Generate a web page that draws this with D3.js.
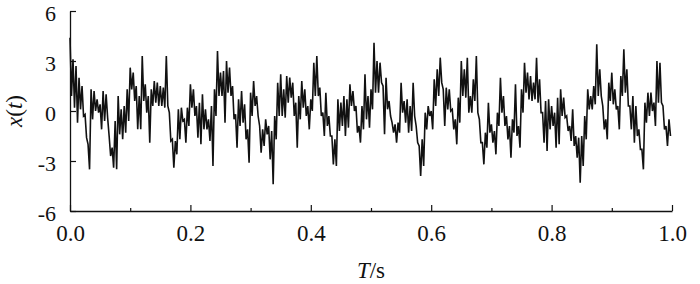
<!DOCTYPE html>
<html>
<head>
<meta charset="UTF-8">
<title>x(t)</title>
<script src="https://d3js.org/d3.v7.min.js"></script>
<style>
  body { margin: 0; background: #fff; }
  svg { display: block; }
  svg text { font-family: "Liberation Serif", "Times New Roman", Times, serif; }
</style>
</head>
<body>
<svg></svg>
<script>
// signal, one array per 0.1 s, sample step 0.0025 s
const tStep = 0.0025;
const sig0 = [4.4,0.9, 3.1,0.2, 2.7,-0.7, 2.0,0.1, 1.5,-0.3, -0.2,-1.6, -2.0,-3.5, 1.3,-0.5, 1.2,0.0, 0.7,-0.1,
              0.4,-1.1, 1.2,-0.6, 1.0,-0.4, -1.5,-2.7, -2.2,-3.4, -0.6,-3.5, 0.9,-1.4, 0.1,-1.7, 0.3,-1.3, 1.3,-0.6];
const sig1 = [2.6,1.3, 2.3,0.6, 1.5,-1.1, 0.9,-1.1, 3.3,0.6, 1.6,-0.1, 0.9,-1.9, 1.3,0.3, 1.8,0.5, 1.7,0.3,
              1.5,0.3, 1.4,0.2, 3.3,0.3, -0.1,-1.8, -1.7,-3.4, -1.8,-2.6, 0.1,-1.7, 0.2,-0.6, -0.5,-1.9, 0.2,-0.9];
const sig2 = [1.6,0.2, 1.3,-0.3, 0.3,-1.6, 0.5,-2.0, 1.0,-1.1, 0.1,-1.1, -0.5,-1.8, 0.3,-3.3, 1.3,-0.3, 3.6,0.9,
              2.3,0.9, 2.4,-0.7, 3.0,1.1, 2.6,0.9, 1.5,-0.5, -0.2,-2.2, 0.7,-0.9, 1.2,-0.7, 0.4,-1.7, -1.1,-3.1];
const sig3 = [1.1,-0.3, 1.8,0.3, 0.9,-0.3, -0.9,-2.5, -1.1,-2.1, -0.5,-1.4, -0.9,-2.9, -1.2,-4.4, -0.3,-1.7, 1.7,-0.3,
              2.2,-0.3, 1.3,-0.4, 2.1,0.5, 2.0,0.8, 1.7,-0.3, 0.5,-2.2, 0.9,-0.5, 1.8,0.2, 1.3,-0.3, 0.3,-1.1];
const sig4 = [0.7,0.0, 2.9,0.9, 3.3,0.9, 1.4,-0.3, -0.1,-1.5, 1.1,-0.9, -0.3,-1.5, -1.5,-3.2, -1.7,-3.3, 0.7,-1.2,
              0.5,-0.9, 0.9,-1.5, 0.7,-1.0, 1.6,0.3, 1.2,0.0, 0.3,-1.3, -0.9,-1.9, 0.3,-1.1, 2.2,-0.5, 0.9,-1.0];
const sig5 = [1.3,0.1, 4.1,1.1, 3.0,1.1, 2.9,1.7, 1.5,-1.4, 2.0,0.1, 0.6,-0.3, -0.7,-1.3, -0.8,-1.9, -0.7,-1.3,
              1.7,-0.1, 0.6,-0.7, 0.7,-1.3, 0.3,-1.2, 1.7,-0.3, -0.9,-1.9, -2.1,-3.9, -1.7,-3.3, -0.1,-1.1, 0.3,-0.3];
const sig6 = [0.0,-1.1, 1.9,0.3, 2.5,0.9, 3.2,1.7, 1.3,-0.9, 1.4,0.1, 1.3,0.0, 0.1,-1.1, -0.5,-2.0, 0.8,-0.7,
              3.0,0.9, 2.5,0.8, 3.2,-0.1, 0.9,-0.1, 1.9,0.6, 3.3,-0.1, -0.5,-1.9, -1.9,-3.2, -1.3,-2.2, 0.5,-1.3];
const sig7 = [-0.8,-1.9, -1.2,-2.6, -0.1,-0.9, 2.0,-0.1, 0.9,-0.9, -0.3,-1.7, -0.9,-2.8, -0.5,-1.3, 1.6,-1.5, -0.9,-2.2,
              1.3,-0.1, 2.9,1.1, 2.3,0.7, 2.1,0.6, 1.7,0.7, 3.2,0.5, 1.9,-0.1, -0.1,-1.9, 0.6,-2.4, 0.7,-1.1];
const sig8 = [0.3,-0.9, -0.1,-2.2, 0.8,-2.0, 1.3,-0.3, 0.8,-0.4, -0.3,-1.2, -0.9,-1.8, 0.1,-2.1, -1.5,-2.8, -1.6,-4.3,
              -1.5,-3.3, -0.3,-1.7, 1.3,0.1, 0.9,0.1, 1.5,0.4, 4.0,0.9, 2.5,0.9, 0.3,-1.1, -0.5,-1.7, 1.7,0.6];
const sig9 = [2.3,0.4, 1.3,0.1, 0.3,-1.1, 2.1,0.9, 3.7,1.1, 2.5,0.3, 0.3,-1.1, 0.9,-1.9, 0.3,-1.5, -1.1,-2.3,
              -2.3,-3.5, 0.5,-0.7, 1.1,-0.3, 1.1,0.0, 0.5,-0.9, 3.0,0.5, 2.9,0.5, 0.3,-1.1, -0.9,-2.1, -0.5,-1.5];

const xTicks = [0, 0.2, 0.4, 0.6, 0.8, 1.0];
const xMinorTicks = [0.1, 0.3, 0.5, 0.7, 0.9];
const yTicks = [-6, -3, 0, 3, 6];

const width = 700, height = 284;
const margin = { top: 11, right: 28, bottom: 73, left: 70 };

const data = [];
[sig0, sig1, sig2, sig3, sig4, sig5, sig6, sig7, sig8, sig9].forEach((seg, c) => {
    seg.forEach((v, i) => data.push({ t: c * 0.1 + i * tStep, v: v }));
});

const svg = d3.select('svg').attr('width', width).attr('height', height);

const x = d3.scaleLinear().domain([0, 1]).range([margin.left, width - margin.right]);
const y = d3.scaleLinear().domain([-6, 6]).range([height - margin.bottom, margin.top]);

const line = d3.line().x(d => x(d.t)).y(d => y(d.v));

svg.append('path')
    .datum(data)
    .attr('fill', 'none')
    .attr('stroke', '#111')
    .attr('stroke-width', 1.6)
    .attr('d', line);

// x axis, ticks point inward
svg.append('g')
    .attr('class', 'x-axis')
    .attr('transform', `translate(0,${y(-6)})`)
    .call(d3.axisBottom(x).tickValues(xTicks).tickSizeInner(-6).tickSizeOuter(0).tickPadding(14)
        .tickFormat(d3.format('.1f')));
svg.append('g')
    .attr('transform', `translate(0,${y(-6)})`)
    .call(d3.axisBottom(x).tickValues(xMinorTicks).tickSizeInner(-3).tickSizeOuter(0).tickFormat(''))
    .call(g => g.select('.domain').remove());

svg.append('g')
    .attr('class', 'y-axis')
    .attr('transform', `translate(${x(0)},0)`)
    .call(d3.axisLeft(y).tickValues(yTicks).tickSizeInner(-6).tickSizeOuter(0).tickPadding(14)
        .tickFormat(d => String(d)));

svg.selectAll('g').attr('font-family', null);
svg.selectAll('.domain').attr('stroke', '#111').attr('stroke-width', 1.3);
svg.selectAll('.tick line').attr('stroke', '#111').attr('stroke-width', 1.2);
svg.selectAll('.tick text').attr('fill', '#111');
svg.selectAll('.x-axis .tick text').attr('font-size', 23);
svg.selectAll('.y-axis .tick text').attr('font-size', 22).attr('dy', '0.42em');

// axis titles
const xt = svg.append('text')
    .attr('x', (x(0) + x(1)) / 2)
    .attr('y', 278)
    .attr('text-anchor', 'middle')
    .attr('font-size', 23)
    .attr('fill', '#111');
xt.append('tspan').attr('font-style', 'italic').text('T');
xt.append('tspan').text('/s');

const yt = svg.append('text')
    .attr('transform', `translate(22,${y(0)}) rotate(-90)`)
    .attr('text-anchor', 'middle')
    .attr('font-size', 23)
    .attr('fill', '#111');
yt.append('tspan').attr('font-style', 'italic').text('x');
yt.append('tspan').text('(');
yt.append('tspan').attr('font-style', 'italic').text('t');
yt.append('tspan').text(')');
</script>
</body>
</html>
